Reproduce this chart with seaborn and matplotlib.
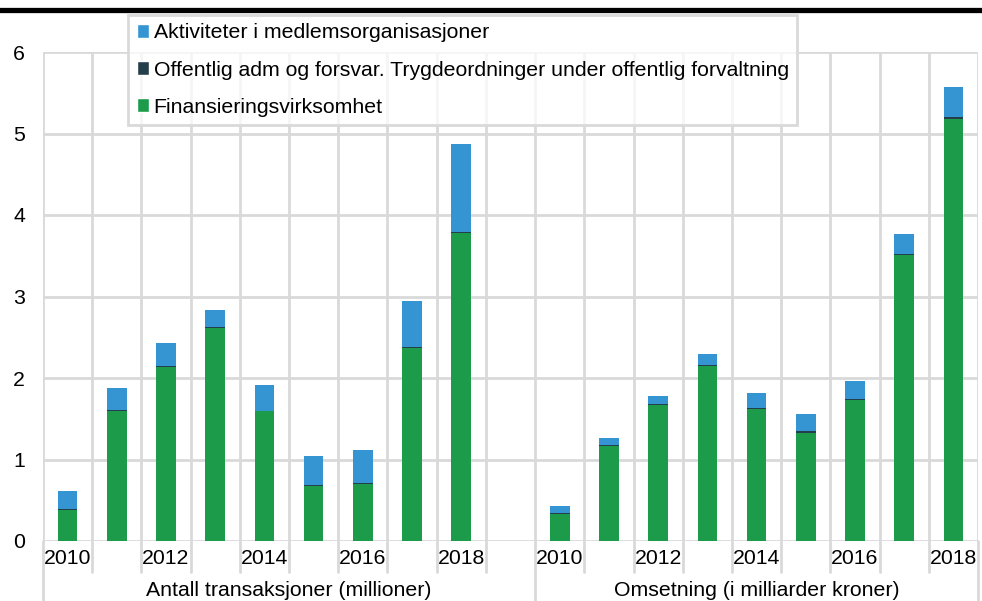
import numpy as np
import pandas as pd
import matplotlib
matplotlib.use("Agg")
import matplotlib.pyplot as plt
from matplotlib.lines import Line2D
from matplotlib.patches import Patch
import seaborn as sns

# data
years = [2010, 2011, 2012, 2013, 2014, 2015, 2016, 2017, 2018]
groups = ["Antall transaksjoner (millioner)", "Omsetning (i milliarder kroner)"]
series = ["Aktiviteter i medlemsorganisasjoner",
          "Offentlig adm og forsvar. Trygdeordninger under offentlig forvaltning",
          "Finansieringsvirksomhet"]

antall_fin = [0.38, 1.60, 2.14, 2.61, 1.59, 0.68, 0.70, 2.37, 3.78]
antall_off = [0.01, 0.01, 0.01, 0.01, 0.01, 0.01, 0.01, 0.01, 0.01]
antall_akt = [0.22, 0.27, 0.28, 0.22, 0.31, 0.35, 0.41, 0.57, 1.08]

omset_fin = [0.33, 1.17, 1.67, 2.15, 1.62, 1.33, 1.73, 3.51, 5.18]
omset_off = [0.01, 0.01, 0.01, 0.01, 0.01, 0.02, 0.01, 0.01, 0.02]
omset_akt = [0.09, 0.08, 0.10, 0.13, 0.18, 0.21, 0.22, 0.25, 0.37]

colors = {"akt": "#3595d3", "off": "#243f4c", "fin": "#1c9b4a"}
grid_col = "#d9d9d9"
FS = 15.3

# slots: 9 years, one blank slot, 9 years
rows = []
for i, y in enumerate(years):
    rows.append(dict(slot=i, fin=antall_fin[i], off=antall_off[i], akt=antall_akt[i]))
    rows.append(dict(slot=10 + i, fin=omset_fin[i], off=omset_off[i], akt=omset_akt[i]))
df = pd.DataFrame(rows)
df["lvl_off"] = df["fin"] + df["off"]
df["lvl_akt"] = df["lvl_off"] + df["akt"]
order = list(range(19))

sns.set_theme(style="white")
plt.rcParams["font.family"] = ["Liberation Sans", "DejaVu Sans"]
plt.rcParams["text.color"] = "black"
plt.rcParams["ytick.color"] = "black"

fig = plt.figure(figsize=(9.82, 6.01), dpi=100)
ax = fig.add_axes([43 / 982, 1 - 541 / 601, 935 / 982, 489 / 601])

for col, key in [("lvl_akt", "akt"), ("lvl_off", "off"), ("fin", "fin")]:
    sns.barplot(data=df, x="slot", y=col, order=order, color=colors[key],
                width=0.4, saturation=1, ax=ax, zorder=3, linewidth=0)

ax.set_xlim(-0.5, 18.5)
ax.set_ylim(0, 6)
ax.set_yticks(range(7))
ax.set_xticks([])
ax.set_xlabel("")
ax.set_ylabel("")
for s in ax.spines.values():
    s.set_visible(False)
ax.tick_params(axis="y", length=0, pad=13, labelsize=FS, labelcolor="black")

# gridlines
for v in range(7):
    ax.axhline(v, color=grid_col, lw=2, zorder=1)
for b in np.arange(-0.5, 19, 1):
    ax.axvline(b, color=grid_col, lw=2, zorder=1)

# multi-level category axis
trans = ax.get_xaxis_transform()
ax_h = 489
for b in np.arange(-0.5, 19, 1):
    long = b in (-0.5, 9.5, 18.5)
    y_end = -60 / ax_h if long else -31 / ax_h
    ax.add_line(Line2D([b, b], [0, y_end], transform=trans, color=grid_col,
                       lw=2, clip_on=False))
for i, y in enumerate(years):
    if y % 2 == 0:
        for off in (0, 10):
            ax.text(i + off, -18 / ax_h, str(y), transform=trans, ha="center",
                    va="center", fontsize=FS)
ax.text(4.5, -49 / ax_h, groups[0], transform=trans, ha="center", va="center", fontsize=FS)
ax.text(14, -49 / ax_h, groups[1], transform=trans, ha="center", va="center", fontsize=FS)

# legend
handles = [Patch(facecolor=colors["akt"]), Patch(facecolor=colors["off"]),
           Patch(facecolor=colors["fin"])]
leg = fig.legend(handles, series, loc="upper left",
                 bbox_to_anchor=(128 / 982, 1 - 15 / 601), fontsize=FS,
                 frameon=True, fancybox=False, handlelength=0.6, handleheight=0.6,
                 handletextpad=0.2, labelspacing=0.85, borderpad=0.4,
                 borderaxespad=0)
frame = leg.get_frame()
frame.set_alpha(None)
frame.set_facecolor((1, 1, 1, 0.75))
frame.set_edgecolor(grid_col)
frame.set_linewidth(2)

# top rule
fig.add_artist(Line2D([0, 1], [1 - 10 / 601, 1 - 10 / 601], transform=fig.transFigure,
                      color="black", lw=3.8))

fig.savefig("out.png", dpi=100)
